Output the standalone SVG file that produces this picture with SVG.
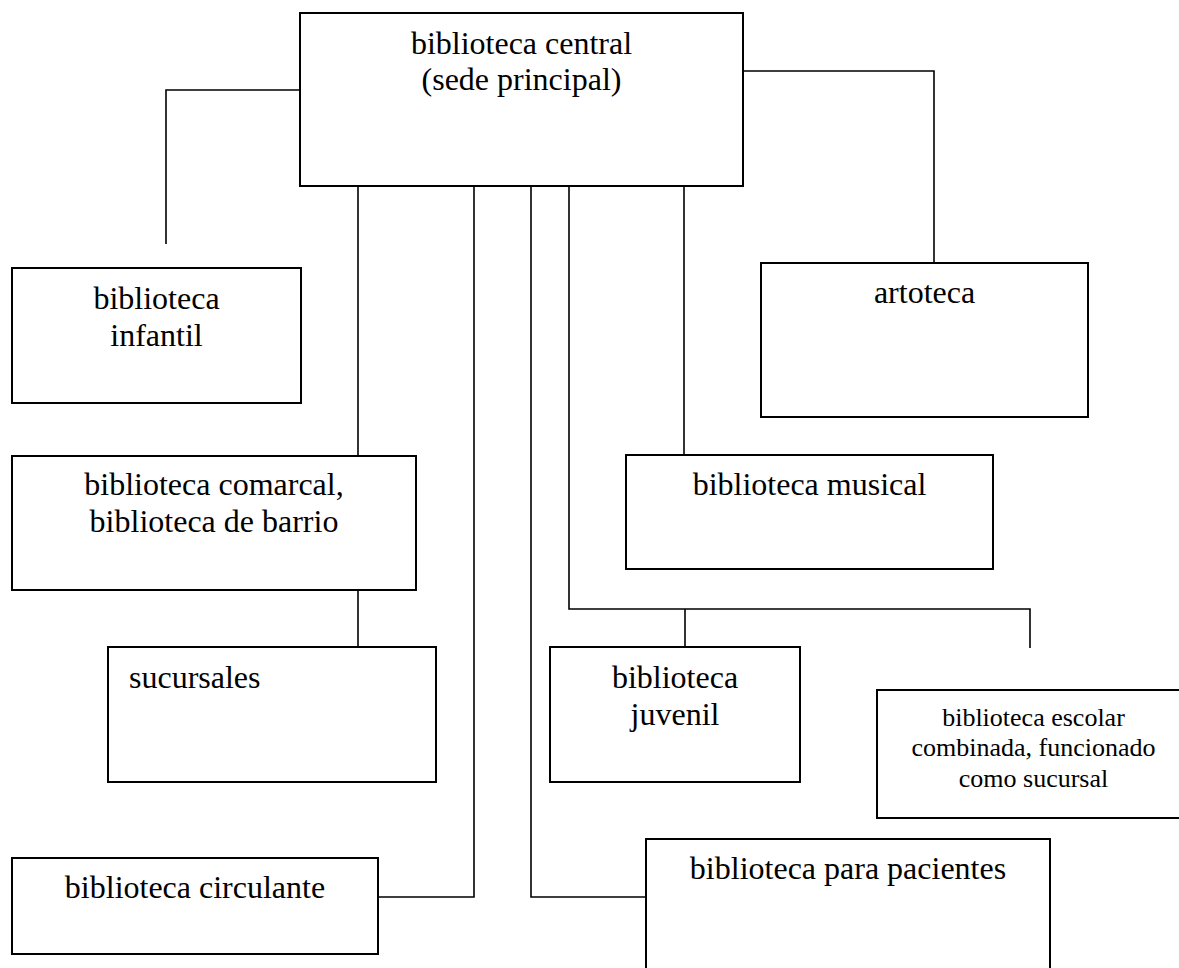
<svg xmlns="http://www.w3.org/2000/svg" width="1179" height="968" viewBox="0 0 1179 968">
<style>
.box{fill:#fff;stroke:#000;stroke-width:2}
.con{fill:none;stroke:#000;stroke-width:1.6}
text{font-family:"Liberation Serif","Times New Roman",serif;font-size:32px;fill:#000}
.c{text-anchor:middle}
.s{font-size:26px}
</style>
<rect width="1179" height="968" fill="#fff"/>
<g id="connectors">
<path class="con" d="M300,90 H166 V244"/>
<path class="con" d="M743,71 H934 V263"/>
<path class="con" d="M358,186 V456"/>
<path class="con" d="M358,590 V647"/>
<path class="con" d="M474,186 V897 H378"/>
<path class="con" d="M531,186 V897 H646"/>
<path class="con" d="M569,186 V609 H1030 V648"/>
<path class="con" d="M685,609 V647"/>
<path class="con" d="M684,186 V455"/>
</g>
<g id="central">
<rect class="box" x="300" y="13" width="443" height="173"/>
<text class="c" x="521.5" y="54">biblioteca central</text>
<text class="c" x="521.5" y="90">(sede principal)</text>
</g>
<g id="infantil">
<rect class="box" x="12" y="268" width="289" height="135"/>
<text class="c" x="156.5" y="309">biblioteca</text>
<text class="c" x="156.5" y="346">infantil</text>
</g>
<g id="artoteca">
<rect class="box" x="761" y="263" width="327" height="154"/>
<text class="c" x="924.5" y="303">artoteca</text>
</g>
<g id="comarcal">
<rect class="box" x="12" y="456" width="404" height="134"/>
<text class="c" x="214" y="495">biblioteca comarcal,</text>
<text class="c" x="214" y="532">biblioteca de barrio</text>
</g>
<g id="musical">
<rect class="box" x="626" y="455" width="367" height="114"/>
<text class="c" x="809.5" y="495">biblioteca musical</text>
</g>
<g id="sucursales">
<rect class="box" x="108" y="647" width="328" height="135"/>
<text x="129" y="688">sucursales</text>
</g>
<g id="juvenil">
<rect class="box" x="550" y="647" width="250" height="135"/>
<text class="c" x="675" y="688">biblioteca</text>
<text class="c" x="675" y="725">juvenil</text>
</g>
<g id="escolar">
<rect class="box" x="877" y="690" width="313" height="128"/>
<text class="c s" x="1033.5" y="726">biblioteca escolar</text>
<text class="c s" x="1033.5" y="756">combinada, funcionado</text>
<text class="c s" x="1033.5" y="787">como sucursal</text>
</g>
<g id="circulante">
<rect class="box" x="12" y="858" width="366" height="96"/>
<text class="c" x="195" y="898">biblioteca circulante</text>
</g>
<g id="pacientes">
<rect class="box" x="646" y="839" width="404" height="140"/>
<text class="c" x="848" y="879">biblioteca para pacientes</text>
</g>
</svg>
